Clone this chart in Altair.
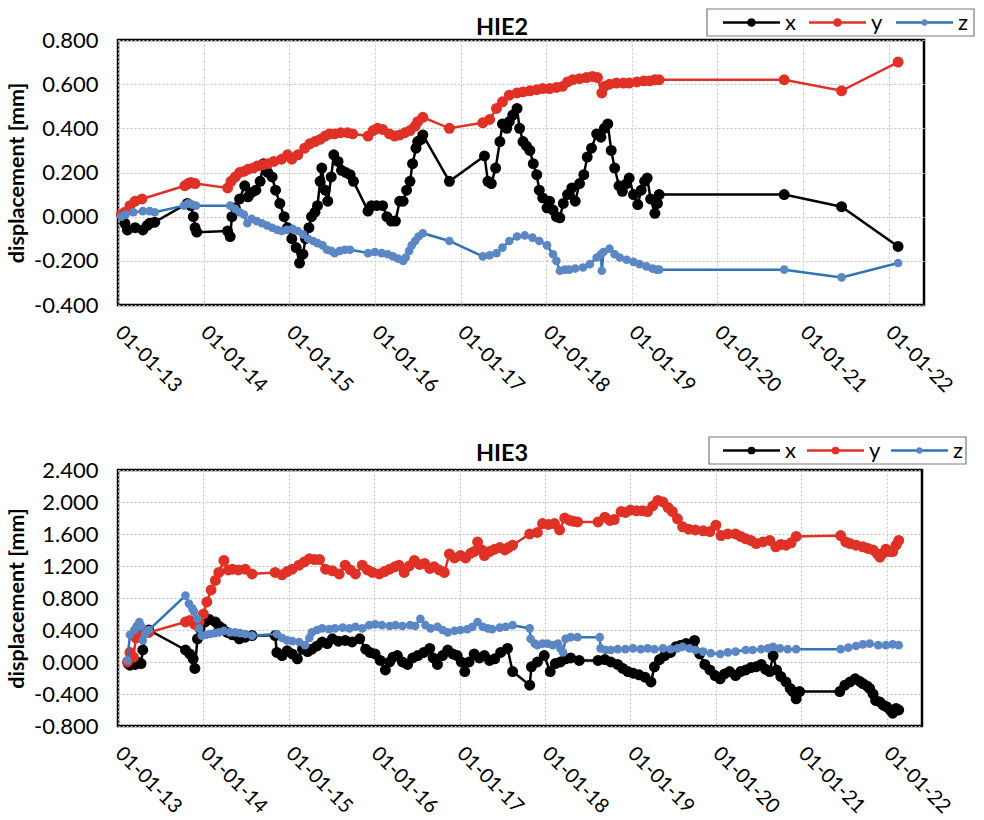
import altair as alt
import pandas as pd

SERIES = ["x", "y", "z"]
POINT_COLORS = ["#000000", "#E03127", "#5B87C5"]
LINE_COLORS = ["#000000", "#E03127", "#2E75B6"]
TICK_YEARS = list(range(2013, 2023))

# ---------------- HIE2 (decimal years / mm) ----------------
hie2_x_t = [2013.08, 2013.11, 2013.20, 2013.29, 2013.34, 2013.37, 2013.43, 2013.81, 2013.85, 2013.88,
            2013.90, 2013.92, 2014.28, 2014.31, 2014.33, 2014.37, 2014.42, 2014.48, 2014.52, 2014.56,
            2014.61, 2014.66, 2014.70, 2014.75, 2014.80, 2014.84, 2014.89, 2014.94, 2014.98, 2015.03,
            2015.08, 2015.12, 2015.16, 2015.19, 2015.23, 2015.26, 2015.30, 2015.33, 2015.36, 2015.38,
            2015.42, 2015.45, 2015.49, 2015.52, 2015.57, 2015.61, 2015.66, 2015.71, 2015.75, 2015.92,
            2015.96, 2016.02, 2016.09, 2016.14, 2016.19, 2016.24, 2016.29, 2016.33, 2016.37, 2016.41,
            2016.44, 2016.48, 2016.50, 2016.54, 2016.56, 2016.87, 2017.28, 2017.32, 2017.36, 2017.41,
            2017.46, 2017.49, 2017.54, 2017.57, 2017.61, 2017.66, 2017.69, 2017.73, 2017.77, 2017.81,
            2017.85, 2017.89, 2017.92, 2017.96, 2018.01, 2018.04, 2018.08, 2018.12, 2018.16, 2018.20,
            2018.25, 2018.30, 2018.34, 2018.39, 2018.44, 2018.48, 2018.53, 2018.59, 2018.64, 2018.68,
            2018.72, 2018.76, 2018.80, 2018.85, 2018.89, 2018.94, 2018.97, 2019.02, 2019.07, 2019.11,
            2019.15, 2019.18, 2019.22, 2019.27, 2019.30, 2019.32, 2020.78, 2021.45, 2022.11]
hie2_x_v = [-0.03, -0.06, -0.05, -0.06, -0.04, -0.03, -0.025, 0.06, 0.05, 0.0,
            -0.05, -0.07, -0.065, -0.09, 0.0, 0.04, 0.08, 0.14, 0.09, 0.11,
            0.12, 0.16, 0.24, 0.20, 0.18, 0.12, 0.06, 0.0, -0.05, -0.10,
            -0.14, -0.21, -0.17, -0.10, -0.05, 0.0, 0.02, 0.05, 0.16, 0.22,
            0.12, 0.07, 0.18, 0.28, 0.25, 0.21, 0.20, 0.19, 0.16, 0.025,
            0.05, 0.05, 0.05, 0.0, -0.02, -0.02, 0.07, 0.07, 0.12, 0.16,
            0.24, 0.31, 0.34, 0.35, 0.37, 0.16, 0.275, 0.16, 0.15, 0.22,
            0.34, 0.42, 0.40, 0.43, 0.46, 0.49, 0.40, 0.34, 0.32, 0.30,
            0.24, 0.19, 0.12, 0.085, 0.04, 0.07, 0.03, 0.0, -0.005, 0.06,
            0.10, 0.13, 0.07, 0.15, 0.19, 0.27, 0.31, 0.375, 0.36, 0.40,
            0.42, 0.30, 0.22, 0.14, 0.115, 0.15, 0.175, 0.10, 0.055, 0.12,
            0.16, 0.175, 0.08, 0.015, 0.06, 0.10, 0.10, 0.045, -0.135]

hie2_y_t = [2013.04, 2013.08, 2013.14, 2013.20, 2013.28, 2013.78, 2013.82, 2013.85, 2013.90, 2014.28,
            2014.32, 2014.37, 2014.42, 2014.47, 2014.52, 2014.58, 2014.63, 2014.69, 2014.75, 2014.82,
            2014.91, 2014.98, 2015.03, 2015.10, 2015.18, 2015.24, 2015.30, 2015.36, 2015.42, 2015.47,
            2015.53, 2015.60, 2015.68, 2015.74, 2015.92, 2015.98, 2016.03, 2016.09, 2016.17, 2016.23,
            2016.29, 2016.35, 2016.41, 2016.47, 2016.50, 2016.56, 2016.87, 2017.26, 2017.34, 2017.42,
            2017.49, 2017.57, 2017.66, 2017.73, 2017.81, 2017.89, 2017.96, 2018.04, 2018.12, 2018.19,
            2018.25, 2018.31, 2018.39, 2018.47, 2018.54, 2018.60, 2018.65, 2018.68, 2018.74, 2018.82,
            2018.90, 2018.97, 2019.06, 2019.14, 2019.21, 2019.27, 2019.32, 2020.78, 2021.45, 2022.11]
hie2_y_v = [0.01, 0.02, 0.05, 0.07, 0.08, 0.14, 0.15, 0.155, 0.15, 0.13,
            0.16, 0.18, 0.20, 0.205, 0.215, 0.22, 0.23, 0.235, 0.24, 0.25,
            0.26, 0.28, 0.26, 0.28, 0.31, 0.33, 0.34, 0.35, 0.365, 0.375,
            0.375, 0.38, 0.38, 0.375, 0.365, 0.39, 0.40, 0.395, 0.375, 0.365,
            0.37, 0.38, 0.39, 0.41, 0.43, 0.45, 0.40, 0.425, 0.44, 0.49,
            0.52, 0.55, 0.56, 0.565, 0.57, 0.575, 0.58, 0.58, 0.585, 0.59,
            0.61, 0.62, 0.625, 0.63, 0.635, 0.63, 0.56, 0.59, 0.60, 0.605,
            0.605, 0.605, 0.61, 0.615, 0.615, 0.62, 0.62, 0.62, 0.57, 0.70]

hie2_z_t = [2013.04, 2013.09, 2013.18, 2013.29, 2013.37, 2013.43, 2013.77, 2013.82, 2013.86, 2013.91,
            2014.31, 2014.37, 2014.42, 2014.47, 2014.51, 2014.56, 2014.62, 2014.68, 2014.74, 2014.80,
            2014.86, 2014.91, 2014.97, 2015.04, 2015.10, 2015.16, 2015.22, 2015.28, 2015.33, 2015.39,
            2015.44, 2015.49, 2015.53, 2015.59, 2015.65, 2015.71, 2015.92, 2016.00, 2016.08, 2016.15,
            2016.21, 2016.27, 2016.33, 2016.36, 2016.40, 2016.43, 2016.47, 2016.51, 2016.56, 2016.87,
            2017.26, 2017.34, 2017.42, 2017.49, 2017.57, 2017.66, 2017.75, 2017.84, 2017.92, 2018.01,
            2018.08, 2018.12, 2018.16, 2018.22, 2018.27, 2018.34, 2018.43, 2018.51, 2018.59, 2018.64,
            2018.65, 2018.67, 2018.74, 2018.80, 2018.86, 2018.94, 2019.02, 2019.09, 2019.17, 2019.24,
            2019.29, 2019.32, 2020.78, 2021.45, 2022.11]
hie2_z_v = [0.0, 0.01, 0.02, 0.025, 0.025, 0.02, 0.05, 0.06, 0.055, 0.05,
            0.05, 0.035, 0.02, 0.01, -0.03, -0.01, -0.02, -0.03, -0.04, -0.05,
            -0.06, -0.065, -0.06, -0.055, -0.065, -0.08, -0.10, -0.11, -0.12, -0.13,
            -0.15, -0.155, -0.165, -0.155, -0.15, -0.15, -0.165, -0.16, -0.165, -0.17,
            -0.18, -0.19, -0.20, -0.185, -0.155, -0.13, -0.11, -0.09, -0.075, -0.11,
            -0.18, -0.175, -0.165, -0.14, -0.11, -0.09, -0.085, -0.095, -0.11, -0.13,
            -0.17, -0.20, -0.245, -0.24, -0.24, -0.235, -0.23, -0.215, -0.185, -0.17,
            -0.245, -0.16, -0.145, -0.17, -0.185, -0.195, -0.205, -0.215, -0.225, -0.235,
            -0.24, -0.24, -0.24, -0.275, -0.21]

# ---------------- HIE3 (decimal years / mm) ----------------
hie3_x_t = [2013.12, 2013.14, 2013.20, 2013.23, 2013.27, 2013.29, 2013.32, 2013.36, 2013.79, 2013.84,
            2013.88, 2013.90, 2013.93, 2013.96, 2014.02, 2014.07, 2014.14, 2014.18, 2014.22, 2014.28,
            2014.34, 2014.42, 2014.49, 2014.57, 2014.84, 2014.86, 2014.92, 2014.98, 2015.04, 2015.10,
            2015.16, 2015.22, 2015.27, 2015.33, 2015.39, 2015.45, 2015.51, 2015.58, 2015.66, 2015.74,
            2015.83, 2015.90, 2015.95, 2016.01, 2016.07, 2016.13, 2016.18, 2016.22, 2016.27, 2016.33,
            2016.39, 2016.45, 2016.51, 2016.58, 2016.65, 2016.69, 2016.74, 2016.80, 2016.86, 2016.92,
            2016.97, 2017.02, 2017.06, 2017.11, 2017.17, 2017.23, 2017.29, 2017.35, 2017.41, 2017.48,
            2017.56, 2017.62, 2017.82, 2017.84, 2017.91, 2017.99, 2018.06, 2018.12, 2018.18, 2018.24,
            2018.30, 2018.40, 2018.62, 2018.70, 2018.77, 2018.85, 2018.91, 2018.97, 2019.03, 2019.10,
            2019.17, 2019.24, 2019.28, 2019.34, 2019.40, 2019.47, 2019.53, 2019.59, 2019.65, 2019.71,
            2019.75, 2019.81, 2019.87, 2019.93, 2019.99, 2020.05, 2020.10, 2020.16, 2020.23, 2020.29,
            2020.35, 2020.41, 2020.47, 2020.53, 2020.58, 2020.63, 2020.67, 2020.71, 2020.76, 2020.82,
            2020.87, 2020.90, 2020.94, 2020.98, 2021.45, 2021.51, 2021.57, 2021.63, 2021.68, 2021.72,
            2021.77, 2021.80, 2021.84, 2021.87, 2021.92, 2021.96, 2022.00, 2022.04, 2022.07, 2022.11,
            2022.14]
hie3_x_v = [-0.02, -0.04, -0.03, 0.0, -0.02, 0.15, 0.37, 0.40, 0.15, 0.10,
            0.04, -0.08, 0.29, 0.42, 0.50, 0.53, 0.50, 0.45, 0.42, 0.37,
            0.34, 0.29, 0.31, 0.33, 0.33, 0.12, 0.08, 0.14, 0.10, 0.04,
            0.16, 0.13, 0.16, 0.20, 0.25, 0.23, 0.29, 0.26, 0.27, 0.25,
            0.29, 0.16, 0.12, 0.10, 0.02, -0.10, 0.0, 0.06, 0.08, 0.0,
            -0.03, 0.05, 0.08, 0.12, 0.17, 0.05, -0.03, 0.08, 0.15, 0.10,
            0.08, 0.0, -0.12, 0.0, 0.10, 0.05, 0.08, 0.02, 0.04, 0.12,
            0.17, -0.12, -0.29, -0.06, 0.0, 0.08, -0.12, -0.02, 0.0, 0.04,
            0.05, 0.02, 0.02, 0.03, 0.0, -0.03, -0.08, -0.12, -0.14, -0.16,
            -0.19, -0.25, -0.06, 0.03, 0.08, 0.12, 0.19, 0.21, 0.23, 0.20,
            0.27, 0.10, -0.03, -0.10, -0.17, -0.21, -0.15, -0.12, -0.17, -0.12,
            -0.10, -0.07, -0.06, -0.03, -0.09, -0.12, 0.08, -0.10, -0.18, -0.25,
            -0.33, -0.37, -0.46, -0.37, -0.37, -0.29, -0.25, -0.21, -0.24, -0.27,
            -0.30, -0.33, -0.40, -0.48, -0.50, -0.54, -0.56, -0.60, -0.64, -0.58,
            -0.60]

hie3_y_t = [2013.11, 2013.14, 2013.18, 2013.21, 2013.25, 2013.28, 2013.36, 2013.79, 2013.84, 2013.90,
            2013.95, 2014.00, 2014.04, 2014.09, 2014.14, 2014.18, 2014.24, 2014.29, 2014.34, 2014.41,
            2014.49, 2014.57, 2014.84, 2014.92, 2014.98, 2015.04, 2015.12, 2015.18, 2015.24, 2015.30,
            2015.36, 2015.43, 2015.51, 2015.59, 2015.66, 2015.72, 2015.78, 2015.86, 2015.92, 2015.98,
            2016.06, 2016.12, 2016.18, 2016.24, 2016.29, 2016.35, 2016.41, 2016.47, 2016.53, 2016.59,
            2016.65, 2016.70, 2016.76, 2016.82, 2016.88, 2016.94, 2017.01, 2017.07, 2017.13, 2017.17,
            2017.21, 2017.26, 2017.29, 2017.35, 2017.41, 2017.47, 2017.53, 2017.57, 2017.62, 2017.82,
            2017.91, 2017.97, 2018.04, 2018.11, 2018.17, 2018.23, 2018.29, 2018.33, 2018.38, 2018.62,
            2018.70, 2018.76, 2018.81, 2018.89, 2018.94, 2019.00, 2019.07, 2019.14, 2019.20, 2019.26,
            2019.32, 2019.38, 2019.44, 2019.49, 2019.55, 2019.61, 2019.68, 2019.76, 2019.85, 2019.93,
            2020.00, 2020.06, 2020.14, 2020.23, 2020.29, 2020.35, 2020.41, 2020.47, 2020.55, 2020.63,
            2020.70, 2020.76, 2020.82, 2020.88, 2020.94, 2021.46, 2021.52, 2021.57, 2021.64, 2021.72,
            2021.78, 2021.84, 2021.89, 2021.92, 2021.96, 2021.99, 2022.04, 2022.07, 2022.11, 2022.14]
hie3_y_v = [0.0, 0.12, 0.06, 0.30, 0.35, 0.40, 0.37, 0.50, 0.52, 0.47,
            0.50, 0.60, 0.75, 0.90, 1.02, 1.12, 1.27, 1.15, 1.16, 1.15,
            1.16, 1.10, 1.12, 1.09, 1.13, 1.16, 1.21, 1.25, 1.29, 1.28,
            1.28, 1.16, 1.14, 1.10, 1.21, 1.15, 1.10, 1.21, 1.15, 1.12,
            1.10, 1.13, 1.16, 1.19, 1.21, 1.12, 1.20, 1.27, 1.22, 1.23,
            1.17, 1.19, 1.15, 1.12, 1.35, 1.30, 1.33, 1.30, 1.36, 1.38,
            1.50, 1.40, 1.33, 1.38, 1.41, 1.43, 1.40, 1.43, 1.46, 1.60,
            1.62, 1.73, 1.72, 1.73, 1.65, 1.80, 1.77, 1.76, 1.75, 1.75,
            1.81, 1.77, 1.78, 1.88, 1.87, 1.90, 1.89, 1.89, 1.88, 1.95,
            2.02, 2.00, 1.93, 1.88, 1.79, 1.69, 1.66, 1.65, 1.64, 1.63,
            1.71, 1.58, 1.60, 1.60, 1.57, 1.54, 1.52, 1.48, 1.50, 1.52,
            1.44, 1.47, 1.46, 1.49, 1.57, 1.58, 1.50, 1.48, 1.46, 1.44,
            1.42, 1.40, 1.35, 1.31, 1.36, 1.41, 1.38, 1.38, 1.46, 1.52]

hie3_z_t = [2013.11, 2013.14, 2013.19, 2013.22, 2013.25, 2013.27, 2013.29, 2013.32, 2013.36, 2013.79,
            2013.83, 2013.87, 2013.89, 2013.93, 2013.95, 2013.98, 2014.03, 2014.08, 2014.13, 2014.18,
            2014.24, 2014.31, 2014.37, 2014.43, 2014.49, 2014.57, 2014.86, 2014.92, 2014.98, 2015.04,
            2015.12, 2015.19, 2015.24, 2015.27, 2015.33, 2015.39, 2015.47, 2015.54, 2015.63, 2015.71,
            2015.78, 2015.86, 2015.94, 2016.01, 2016.09, 2016.18, 2016.25, 2016.33, 2016.42, 2016.48,
            2016.54, 2016.60, 2016.66, 2016.74, 2016.80, 2016.86, 2016.94, 2017.01, 2017.09, 2017.15,
            2017.21, 2017.27, 2017.33, 2017.38, 2017.47, 2017.54, 2017.62, 2017.82, 2017.83, 2017.88,
            2017.91, 2017.97, 2018.03, 2018.09, 2018.15, 2018.18, 2018.21, 2018.24, 2018.30, 2018.38,
            2018.64, 2018.65, 2018.71, 2018.77, 2018.85, 2018.94, 2019.03, 2019.12, 2019.20, 2019.28,
            2019.38, 2019.47, 2019.55, 2019.61, 2019.69, 2019.76, 2019.85, 2019.94, 2020.05, 2020.14,
            2020.23, 2020.35, 2020.43, 2020.53, 2020.61, 2020.67, 2020.75, 2020.84, 2020.94, 2021.46,
            2021.55, 2021.64, 2021.72, 2021.80, 2021.90, 2021.99, 2022.07, 2022.14]
hie3_z_v = [0.02, 0.34, 0.40, 0.45, 0.50, 0.45, 0.27, 0.35, 0.40, 0.83,
            0.73, 0.67, 0.63, 0.54, 0.42, 0.33, 0.34, 0.35, 0.36, 0.37,
            0.39, 0.37, 0.37, 0.36, 0.35, 0.33, 0.35, 0.30, 0.27, 0.26,
            0.25, 0.21, 0.30, 0.37, 0.40, 0.42, 0.41, 0.42, 0.43, 0.42,
            0.44, 0.42, 0.46, 0.47, 0.46, 0.45, 0.46, 0.45, 0.46, 0.45,
            0.54, 0.46, 0.42, 0.44, 0.40, 0.37, 0.39, 0.40, 0.41, 0.44,
            0.50, 0.44, 0.42, 0.41, 0.43, 0.44, 0.46, 0.42, 0.29, 0.23,
            0.21, 0.23, 0.23, 0.21, 0.23, 0.17, 0.12, 0.29, 0.31, 0.31,
            0.31, 0.17, 0.15, 0.15, 0.16, 0.16, 0.17, 0.16, 0.17, 0.16,
            0.17, 0.16, 0.17, 0.19, 0.17, 0.15, 0.13, 0.11, 0.10, 0.12,
            0.13, 0.15, 0.15, 0.16, 0.17, 0.19, 0.17, 0.16, 0.16, 0.16,
            0.18, 0.20, 0.22, 0.23, 0.21, 0.21, 0.22, 0.21]

HIE2_YTICKS = [-0.4, -0.2, 0.0, 0.2, 0.4, 0.6, 0.8]
HIE3_YTICKS = [-0.8, -0.4, 0.0, 0.4, 0.8, 1.2, 1.6, 2.0, 2.4]

FONT = "Lato"
GRID = "#c4c4c4"


def to_dates(years):
    base = pd.Timestamp("2013-01-01")
    return [base + pd.Timedelta(days=(y - 2013.0) * 365.25) for y in years]


def frame(t, v, name):
    return pd.DataFrame({"date": to_dates(t), "value": v, "series": name})


def legend_layers(box, y_mid, line_starts, line_len, text_gap, dot_sizes):
    """Boxed key above the plot's top-right corner (pixel layout of the key only)."""
    layers = [alt.Chart(pd.DataFrame({"k": [0]})).mark_rect(
        fill="white", stroke="#7a7a7a", strokeWidth=1.2).encode(
        x=alt.value(box[0]), x2=alt.value(box[1]), y=alt.value(box[2]), y2=alt.value(box[3]))]
    for i, name in enumerate(SERIES):
        d = pd.DataFrame({"label": [name]})
        x0 = line_starts[i]
        layers.append(alt.Chart(d).mark_rule(color=LINE_COLORS[i], strokeWidth=2.5).encode(
            x=alt.value(x0), x2=alt.value(x0 + line_len), y=alt.value(y_mid)))
        layers.append(alt.Chart(d).mark_point(filled=True, opacity=1, color=POINT_COLORS[i],
                                              size=dot_sizes[i]).encode(
            x=alt.value(x0 + line_len / 2), y=alt.value(y_mid)))
        layers.append(alt.Chart(d).mark_text(align="left", baseline="middle", font=FONT,
                                             fontSize=22, color="black").encode(
            x=alt.value(x0 + line_len + text_gap), y=alt.value(y_mid), text="label:N"))
    return layers


def panel(title, title_dx, title_offset, series_frames, yticks, width, height, key):
    x_enc = alt.X(
        "date:T",
        scale=alt.Scale(domain=[alt.DateTime(year=2013, month=1, date=1),
                                alt.DateTime(year=2022, month=6, date=1)]),
        axis=alt.Axis(values=[alt.DateTime(year=y, month=1, date=1) for y in TICK_YEARS],
                      format="%d-%m-%y", labelAngle=45, labelAlign="left",
                      labelBaseline="middle", labelPadding=24, labelFont=FONT,
                      labelFontSize=20, labelColor="black", ticks=False, tickSize=0,
                      domain=False, grid=True, gridColor=GRID, gridDash=[2, 2],
                      labelOverlap=False, labelFlush=False),
        title=None,
    )
    y_enc = alt.Y(
        "value:Q",
        scale=alt.Scale(domain=[yticks[0], yticks[-1]], nice=False, zero=False),
        axis=alt.Axis(values=yticks,
                      labelExpr="(datum.value < -0.0001 ? '-' : '') + format(abs(datum.value), '.3f')",
                      title="displacement [mm]", titleFont=FONT, titleFontSize=21.5,
                      titleFontWeight="bold", titleColor="black", titlePadding=5,
                      labelFont=FONT, labelFontSize=22, labelColor="black",
                      labelPadding=20, ticks=False, tickSize=0, domain=False,
                      grid=True, gridColor=GRID, gridDash=[2, 2]),
    )
    color_scale = alt.Scale(domain=SERIES, range=POINT_COLORS)
    stroke_scale = alt.Scale(domain=SERIES, range=LINE_COLORS)
    sizes = {"x": 120, "y": 120, "z": 75}
    layers = []
    for df in series_frames:
        name = df["series"].iloc[0]
        base = alt.Chart(df)
        layers.append(base.mark_line(strokeWidth=2.5).encode(
            x=x_enc, y=y_enc,
            stroke=alt.Stroke("series:N", scale=stroke_scale, legend=None)))
        layers.append(base.mark_circle(size=sizes[name], opacity=1).encode(
            x=x_enc, y=y_enc,
            color=alt.Color("series:N", scale=color_scale, legend=None)))
    layers += legend_layers(**key)
    return alt.layer(*layers).properties(
        width=width, height=height,
        title=alt.TitleParams(text=title, font=FONT, fontSize=23.5, fontWeight="bold",
                              color="black", anchor="middle", dx=title_dx,
                              offset=title_offset, frame="group"),
    )


top = panel("HIE2", -19, -31,
            [frame(hie2_x_t, hie2_x_v, "x"), frame(hie2_y_t, hie2_y_v, "y"),
             frame(hie2_z_t, hie2_z_v, "z")],
            HIE2_YTICKS, 806, 265,
            dict(box=(589, 856, -31, -4), y_mid=-17.5, line_starts=(605, 691, 778),
                 line_len=57, text_gap=5, dot_sizes=(75, 75, 40)))
bottom = panel("HIE3", -18, -29,
               [frame(hie3_x_t, hie3_x_v, "x"), frame(hie3_y_t, hie3_y_v, "y"),
                frame(hie3_z_t, hie3_z_v, "z")],
               HIE3_YTICKS, 804, 256,
               dict(box=(591, 848, -33, -6), y_mid=-19.5, line_starts=(605, 689, 773),
                    line_len=57, text_gap=5, dot_sizes=(60, 60, 40)))

chart = alt.vconcat(top, bottom, spacing=37).resolve_scale(
    color="independent", stroke="independent"
).properties(
    padding={"top": 7, "left": 5, "right": 5, "bottom": 3},
    background="white",
).configure_view(stroke="black", strokeWidth=2.5)

chart.save("out.html", embed_options={"renderer": "svg", "actions": False})
